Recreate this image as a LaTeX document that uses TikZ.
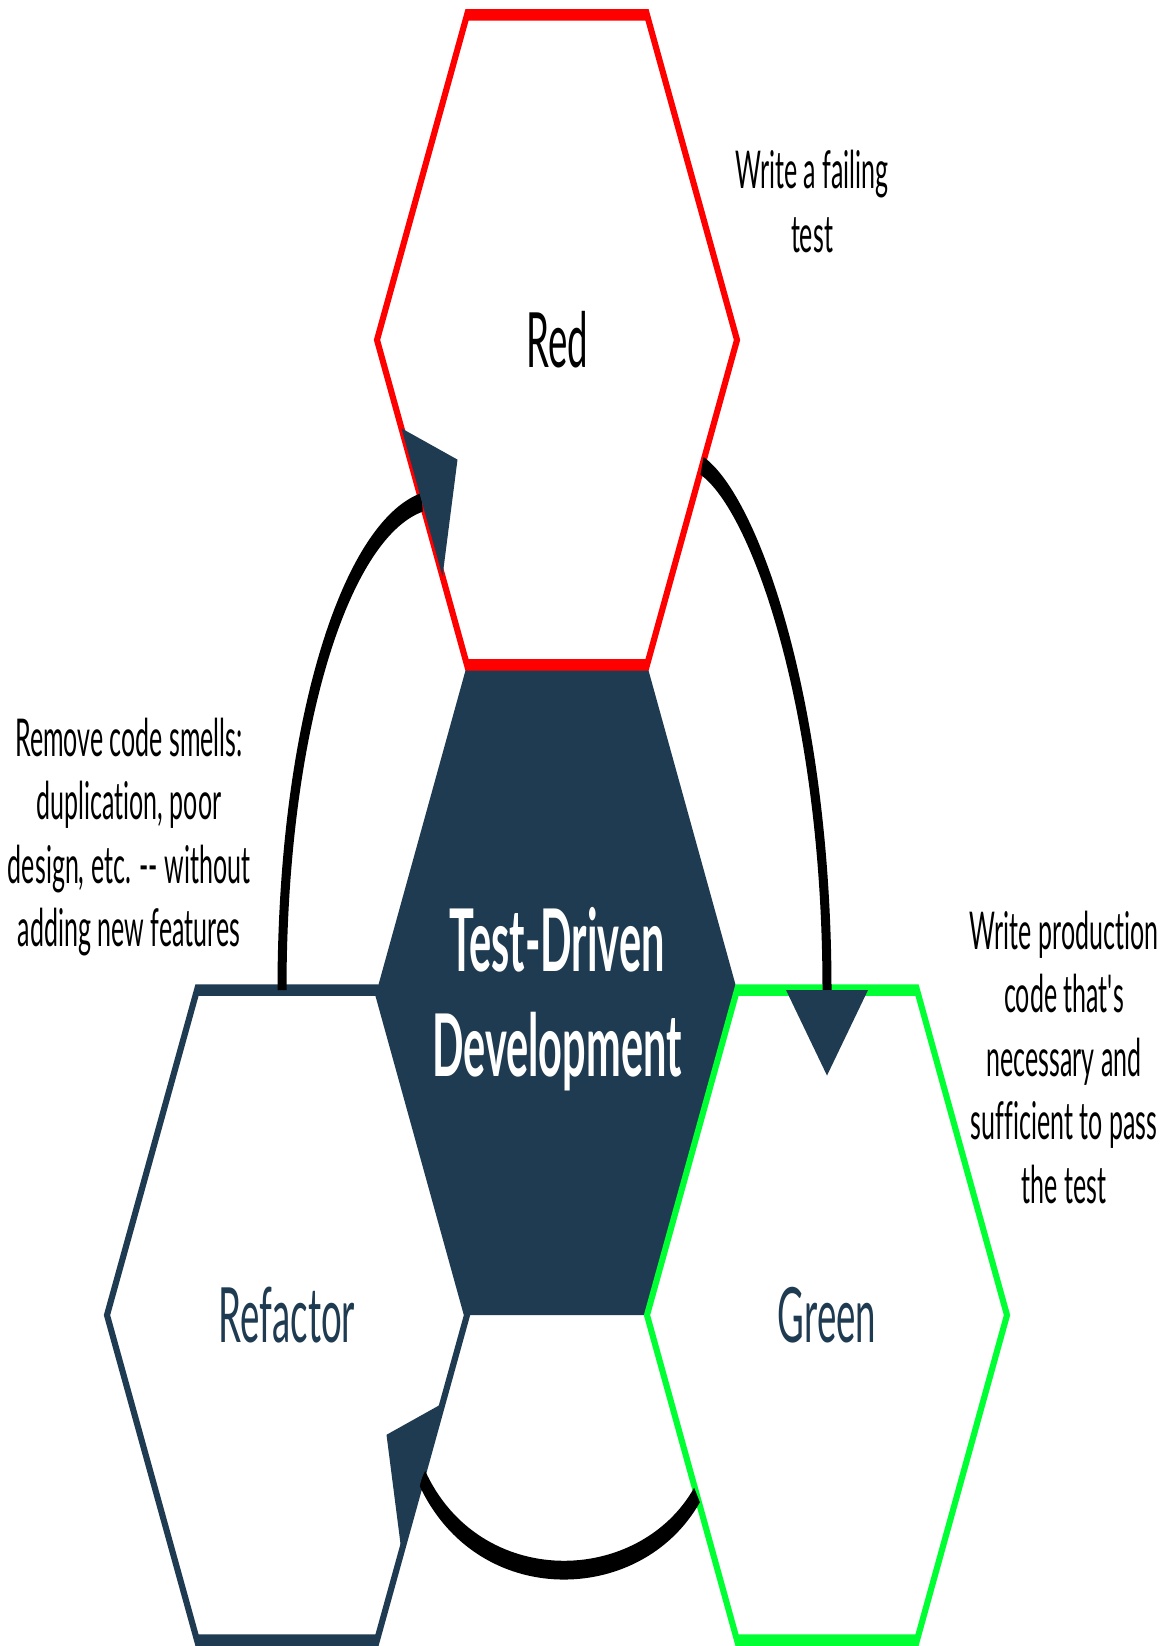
\documentclass[tikz,border=0pt]{standalone}
\usepackage{fontspec}
\setmainfont{Lato}[Ligatures=NoCommon]
\usetikzlibrary{shapes.geometric}
\definecolor{navy}{RGB}{31,59,81}
\definecolor{hexred}{RGB}{255,0,0}
\definecolor{hexgreen}{RGB}{0,255,51}
\begin{document}
\begin{tikzpicture}[x=1pt,y=1pt,
  hexagon/.style={regular polygon, regular polygon sides=6, minimum size=360pt,
    inner sep=0pt, outer sep=0pt, line width=5.5pt, line join=miter},
  hexlabel/.style={font=\fontsize{36.6}{40}\selectfont},
  note/.style={align=center, font=\fontsize{25}{30.5}\selectfont, inner sep=0pt, text=black},
  loopline/.style={line width=9pt, draw=black},
  arrowtri/.style={fill=navy, draw=none}]
\fill[white] (0,0) rectangle (1170,1646);
\useasboundingbox (0,0) rectangle (1170,1646);
\begin{scope}[transform canvas={yscale=2.085}]
  % hexagons
  \node[hexagon, fill=navy] (tddhex) at (557,314.6) {};
  \node[hexagon, draw=hexred, fill=white, hexlabel, text=black] (red) at (557,626.4) {Red};
  \node[hexagon, draw=hexgreen, fill=white, hexlabel, text=navy] (green) at (827,158.7) {Green};
  \node[hexagon, draw=navy, fill=white, hexlabel, text=navy] (refactor) at (287,158.7) {Refactor};
  % centre title
  \node[align=center, text=white, inner sep=0pt,
        font=\fontsize{41.5}{50.4}\selectfont\bfseries] (tdd) at (557,310.1) {Test-Driven\\Development};
  % connector end points
  \coordinate (refTop) at (282,314.6);
  \coordinate (redIn) at (422,548.5);
  \coordinate (redOut) at (702,566);
  \coordinate (greenIn) at (827,314.6);
  \coordinate (greenOut) at (697,72.4);
  \coordinate (refIn) at (422,80.8);
  % cycle connectors
  \draw[loopline] (redOut) .. controls (755,548) and (827,450) .. (greenIn);
  \draw[loopline] (greenOut) .. controls (640,24) and (478,22) .. (refIn);
  \draw[loopline] (refTop) .. controls (282,440) and (345,535) .. (redIn);
  % arrow heads
  \fill[arrowtri] (401.5,584) -- (442.5,513) -- (457.5,569) -- cycle;
  \fill[arrowtri] (786,314.6) -- (868,314.6) -- (827,273.6) -- cycle;
  \fill[arrowtri] (442.5,116.3) -- (401.5,45.3) -- (386.5,101.3) -- cycle;
  % notes
  \node[note] (noteRed) at (812,692.8) {Write a failing\\test};
  \node[note] (noteGreen) at (1064,282.3) {Write production\\code that\textquotesingle s\\necessary and\\sufficient to pass\\the test};
  \node[note] (noteRef) at (129,388) {Remove code smells:\\duplication, poor\\design, etc. -{}- without\\adding new features};
\end{scope}
\end{tikzpicture}
\end{document}
